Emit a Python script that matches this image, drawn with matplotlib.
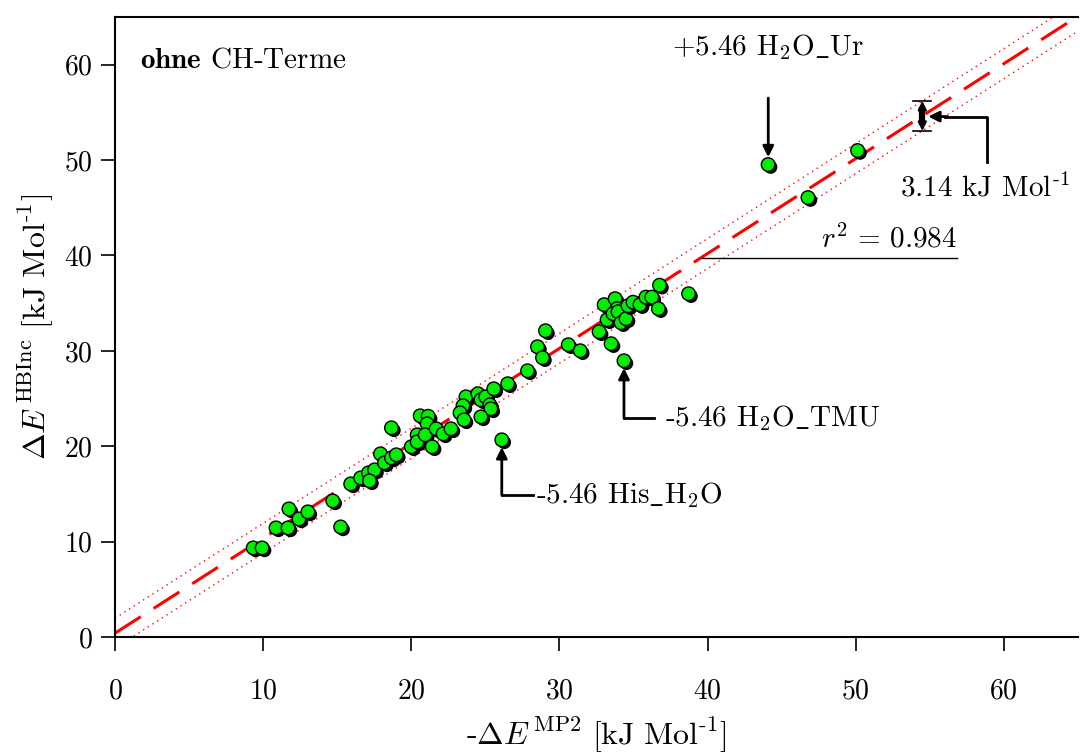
import numpy as np
import matplotlib
matplotlib.use("Agg")
import matplotlib.pyplot as plt
import matplotlib.patheffects as pe

plt.rcParams['font.family'] = ['cmr10']
plt.rcParams['mathtext.fontset'] = 'cm'
plt.rcParams['axes.formatter.use_mathtext'] = True

# -dE(MP2) vs dE(HBInc), kJ/mol
mp2 = [9.33, 9.93, 10.87, 11.68, 11.74, 12.42, 13.02, 14.70, 15.23, 15.91,
       16.58, 17.11, 17.52, 17.18, 17.92, 18.19, 18.66, 18.66, 18.99, 20.00,
       20.40, 20.40, 20.60, 21.14, 21.07, 20.94, 21.41, 21.68, 22.15, 22.68,
       23.69, 23.49, 23.29, 23.56, 24.50, 24.70, 25.03, 25.30, 25.37, 24.70,
       25.57, 26.51, 26.11, 27.85, 28.52, 28.86, 29.06, 30.60, 31.41, 32.68,
       33.49, 33.02, 33.76, 33.89, 33.22, 33.62, 33.96, 34.16, 34.50, 34.63,
       34.97, 35.44, 35.84, 36.24, 36.68, 36.76, 38.72, 34.36, 44.09, 46.78,
       50.13]
hbinc = [9.34, 9.34, 11.44, 11.44, 13.43, 12.38, 13.12, 14.27, 11.54, 16.05,
         16.68, 17.21, 17.52, 16.37, 19.20, 18.26, 21.93, 18.78, 19.10, 19.94,
         21.20, 20.46, 23.19, 23.14, 22.35, 21.20, 19.94, 21.83, 21.30, 21.83,
         25.18, 24.24, 23.50, 22.77, 25.50, 24.87, 25.18, 24.34, 23.92, 23.08,
         26.02, 26.55, 20.67, 27.91, 30.43, 29.28, 32.11, 30.64, 30.01, 32.00,
         30.75, 34.84, 35.47, 34.42, 33.26, 33.89, 34.10, 32.95, 33.37, 34.73,
         35.10, 34.84, 35.63, 35.63, 34.42, 36.88, 35.99, 28.96, 49.53, 46.07,
         51.00]

# regression line and +/- band (3.14 kJ/mol wide)
slope = 0.995
intercept = 0.4
band = 3.14 / 2
ticks = [0, 10, 20, 30, 40, 50, 60]

fig = plt.figure(figsize=(10.8, 7.55), dpi=100)
ax = fig.add_axes([0.1065, 0.1563, 0.8915, 0.8212])

xl = np.array([0, 66])
ax.plot(xl, slope * xl + intercept, color='red', lw=2.2, ls=(0, (10, 5)), zorder=2)
ax.plot(xl, slope * xl + intercept + band, color='red', lw=1.0, ls=(0, (1, 3)), zorder=2)
ax.plot(xl, slope * xl + intercept - band, color='red', lw=1.0, ls=(0, (1, 3)), zorder=2)

ax.scatter(mp2, hbinc, s=95, c='#00ee00', edgecolors='black', linewidths=1.0, zorder=3,
           path_effects=[pe.withSimplePatchShadow(offset=(1.8, -1.8), shadow_rgbFace='black', alpha=1.0)])

ax.set_xlim(0, 65)
ax.set_ylim(0, 65)
ax.set_xticks(ticks)
ax.set_yticks(ticks)
ax.tick_params(direction='out', length=10, width=1.2, labelsize=20)
ax.tick_params(axis='x', pad=20)
ax.tick_params(axis='y', pad=6)
ax.spines['right'].set_visible(False)
for s in ['left', 'bottom', 'top']:
    ax.spines[s].set_linewidth(1.5)

ax.set_xlabel(r'$\text{-}\Delta E^{\,\mathrm{MP2}}\ [\mathrm{kJ\ Mol}^{\text{-1}}]$', fontsize=23, labelpad=8)
ax.set_ylabel(r'$\Delta E^{\,\mathrm{HBInc}}\ [\mathrm{kJ\ Mol}^{\text{-1}}]$', fontsize=23, labelpad=6)

ax.text(1.7, 60.5, r'$\mathbf{ohne}$ $\text{CH-Terme}$', fontsize=21, va='center')

# outliers
arr = dict(arrowstyle='-|>', color='black', lw=2, mutation_scale=16, shrinkA=0, shrinkB=0)
ax.text(44.1, 61.8, r'$\text{+5.46 H}_2\mathrm{O\_Ur}$', fontsize=21, ha='center', va='center')
ax.annotate('', xy=(44.1, 50.3), xytext=(44.1, 56.5), arrowprops=arr)

ax.plot([36.4, 34.36], [22.98, 22.98], color='black', lw=2)
ax.annotate('', xy=(34.36, 28.2), xytext=(34.36, 22.98), arrowprops=arr)
ax.text(37.1, 22.98, r'$\text{-5.46 H}_2\mathrm{O\_TMU}$', fontsize=21, va='center')

ax.plot([28.2, 26.11], [14.9, 14.9], color='black', lw=2)
ax.annotate('', xy=(26.11, 19.9), xytext=(26.11, 14.9), arrowprops=arr)
ax.text(28.4, 14.9, r'$\text{-5.46 His}\mathrm{\_H}_2\mathrm{O}$', fontsize=21, va='center')

# band width marker
bx, blo, bhi = 54.5, intercept + slope * 54.5 - band, intercept + slope * 54.5 + band
ax.plot([bx, bx], [blo + 0.6, bhi - 0.6], color='black', lw=4.5, solid_capstyle='butt')
arr_small = dict(arrowstyle='-|>', color='black', lw=1.5, mutation_scale=13, shrinkA=0, shrinkB=0)
ax.annotate('', xy=(bx, bhi), xytext=(bx, bhi - 1.0), arrowprops=arr_small)
ax.annotate('', xy=(bx, blo), xytext=(bx, blo + 1.0), arrowprops=arr_small)
ax.plot([bx - 0.6, bx + 0.6], [bhi, bhi], color='black', lw=1.2)
ax.plot([bx - 0.6, bx + 0.6], [blo, blo], color='black', lw=1.2)
ax.plot([58.86, 58.86, 56.0], [49.84, 54.56, 54.56], color='black', lw=2)
ax.annotate('', xy=(54.9, 54.56), xytext=(56.2, 54.56), arrowprops=arr)
ax.text(53.0, 47.1, r'$\text{3.14 kJ Mol}^{\text{-1}}$', fontsize=21, va='center')

# r^2
ax.plot([39.6, 56.85], [39.77, 39.77], color='black', lw=1.0)
ax.text(56.85, 40.2, r'$r^2\,=\,0.984$', fontsize=21, ha='right', va='bottom')

fig.savefig('out.png', dpi=100)
